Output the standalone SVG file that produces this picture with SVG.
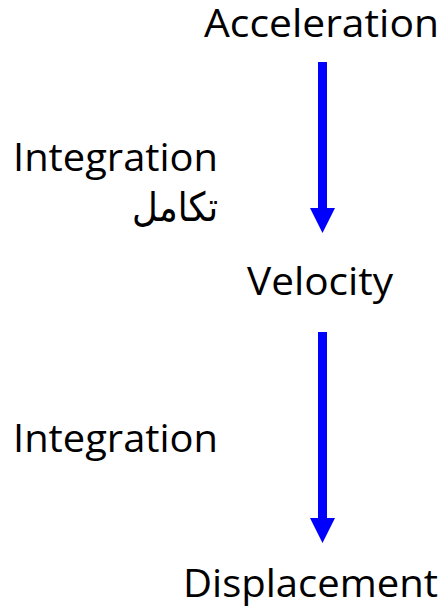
<svg xmlns="http://www.w3.org/2000/svg" width="448" height="609" viewBox="0 0 448 609">
  <style>
    .lbl { font-family: "Open Sans", "Noto Sans", "DejaVu Sans", sans-serif; font-size: 39px; fill: #000; }
    .ar { font-family: "DejaVu Sans", "Noto Sans", sans-serif; font-size: 40px; fill: #000; }
    .conn { stroke: #0000ff; stroke-width: 9; fill: none; }
  </style>
  <defs>
    <marker id="head" markerUnits="userSpaceOnUse" viewBox="0 0 25 25" markerWidth="25" markerHeight="25" refX="0" refY="12.5" orient="auto">
      <path d="M0,0 L25,12.5 L0,25 z" fill="#0000ff"/>
    </marker>
  </defs>
  <rect width="448" height="609" fill="#ffffff"/>
  <g id="acceleration">
    <text class="lbl" x="204" y="37" textLength="235" lengthAdjust="spacingAndGlyphs">Acceleration</text>
  </g>
  <g id="velocity">
    <text class="lbl" x="247" y="295" textLength="146" lengthAdjust="spacingAndGlyphs">Velocity</text>
  </g>
  <g id="displacement">
    <text class="lbl" x="183" y="597" textLength="255" lengthAdjust="spacingAndGlyphs">Displacement</text>
  </g>
  <g id="label-integration-1">
    <text class="lbl" x="13" y="171" textLength="205" lengthAdjust="spacingAndGlyphs">Integration</text>
    <text class="ar" x="175" y="221" text-anchor="middle" textLength="86" lengthAdjust="spacingAndGlyphs">تكامل</text>
  </g>
  <g id="label-integration-2">
    <text class="lbl" x="13" y="452" textLength="205" lengthAdjust="spacingAndGlyphs">Integration</text>
  </g>
  <g id="connectors">
    <line class="conn" x1="322.5" y1="62" x2="322.5" y2="208" marker-end="url(#head)"/>
    <line class="conn" x1="322.5" y1="332" x2="322.5" y2="518" marker-end="url(#head)"/>
  </g>
</svg>
